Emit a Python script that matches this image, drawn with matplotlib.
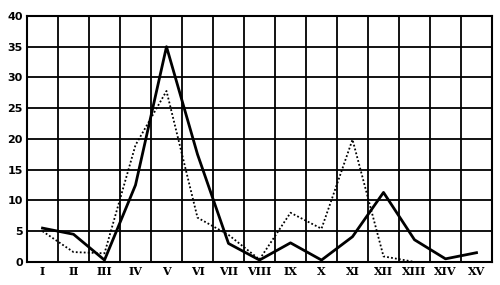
import matplotlib
matplotlib.use("Agg")
import matplotlib.pyplot as plt

categories = ["I", "II", "III", "IV", "V", "VI", "VII", "VIII", "IX", "X",
              "XI", "XII", "XIII", "XIV", "XV"]
solid_values = [5.5, 4.5, 0.3, 12.5, 35, 17.5, 3.0, 0.3, 3.1, 0.3, 4.1, 11.3, 3.6, 0.5, 1.5]
dotted_values = [5.0, 1.6, 1.4, 19.0, 27.8, 7.2, 4.4, 0.4, 8.0, 5.4, 19.9, 0.9, 0.0]
y_ticks = [0, 5, 10, 15, 20, 25, 30, 35, 40]

fig = plt.figure(figsize=(5.0, 2.85), dpi=100)
ax = fig.add_axes([0.054, 0.081, 0.93, 0.863])

x = [i + 0.5 for i in range(len(categories))]
xd = [i + 0.5 for i in range(len(dotted_values))]

ax.set_xlim(0, len(categories))
ax.set_ylim(0, 40)

for v in range(0, len(categories) + 1):
    ax.axvline(v, color="black", lw=1.3, zorder=1)
for v in y_ticks:
    ax.axhline(v, color="black", lw=1.3, zorder=1)

ax.plot(x, solid_values, color="black", lw=2.0, zorder=3)
ax.plot(xd, dotted_values, color="black", lw=1.3, linestyle=(0, (1.0, 1.2)), zorder=3)

ax.set_xticks(x)
ax.set_xticklabels(categories, family="DejaVu Serif", fontweight="bold", fontsize=8)
ax.set_yticks(y_ticks)
ax.set_yticklabels([str(t) for t in y_ticks], fontweight="bold", fontsize=8)
ax.tick_params(length=0, pad=3)
for s in ax.spines.values():
    s.set_linewidth(1.5)

fig.savefig("out.png", dpi=100)
